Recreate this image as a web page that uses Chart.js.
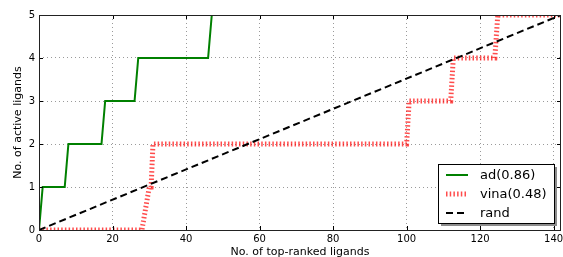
<!DOCTYPE html>
<html>
<head>
<meta charset="utf-8">
<script src="https://cdn.jsdelivr.net/npm/chart.js@4/dist/chart.umd.min.js"></script>
<style>
    html, body { margin: 0; padding: 0; background: #ffffff; }
    #chartBox { width: 563px; height: 257px; }
</style>
</head>
<body>
<div id="chartBox"><canvas id="enrichChart" width="563" height="257"></canvas></div>
<script>
// data
const adX = [0, 1, 7, 8, 17, 18, 26, 27, 46, 47, 142];
const adY = [0, 1, 1, 2, 2, 3, 3, 4, 4, 5, 5];

const vinaX = [0, 28, 30, 30.5, 31, 100, 100.7, 112, 112.7, 124, 124.8, 142];
const vinaY = [0, 0, 1, 1, 2, 2, 3, 3, 4, 4, 5, 5];

const randX = [0, 142];
const randY = [0, 5];

const xTicks = [0, 20, 40, 60, 80, 100, 120, 140];
const yTicks = [0, 1, 2, 3, 4, 5];

const legendLabels = ["ad(0.86)", "vina(0.48)", "rand"];

const FONT = "'DejaVu Sans', sans-serif";

function toPoints(xs, ys) {
    return xs.map((x, i) => ({ x: x, y: ys[i] }));
}

// frame + inward tick marks, like the matplotlib axes
const framePlugin = {
    id: "frame",
    afterDraw(chart) {
        const ctx = chart.ctx;
        const a = chart.chartArea;
        const xs = chart.scales.x;
        const ys = chart.scales.y;
        ctx.save();
        ctx.strokeStyle = "#000000";
        ctx.lineWidth = 1;
        ctx.beginPath();
        xTicks.forEach(v => {
            const px = Math.round(xs.getPixelForValue(v)) + 0.5;
            ctx.moveTo(px, a.bottom);
            ctx.lineTo(px, a.bottom - 4);
            ctx.moveTo(px, a.top);
            ctx.lineTo(px, a.top + 4);
        });
        yTicks.forEach(v => {
            const py = Math.round(ys.getPixelForValue(v)) + 0.5;
            ctx.moveTo(a.left, py);
            ctx.lineTo(a.left + 4, py);
            ctx.moveTo(a.right, py);
            ctx.lineTo(a.right - 4, py);
        });
        ctx.stroke();
        ctx.strokeStyle = "#222222";
        ctx.strokeRect(Math.round(a.left) + 0.5, Math.round(a.top) + 0.5,
            Math.round(a.right - a.left) - 1, Math.round(a.bottom - a.top));
        ctx.restore();
    }
};

// legend box in the lower right corner with a drop shadow
const legendPlugin = {
    id: "boxLegend",
    afterDraw(chart) {
        const ctx = chart.ctx;
        const a = chart.chartArea;
        const w = 116, h = 59;
        const x0 = Math.round(a.right) - 7 - w;
        const y0 = Math.round(a.bottom) - 7 - h;

        ctx.save();
        ctx.fillStyle = "#8c8c8c";
        ctx.fillRect(x0 + 3, y0 + 3, w, h);
        ctx.fillStyle = "#ffffff";
        ctx.fillRect(x0, y0, w, h);
        ctx.strokeStyle = "#000000";
        ctx.lineWidth = 1;
        ctx.strokeRect(x0 + 0.5, y0 + 0.5, w, h);

        ctx.font = "13px " + FONT;
        ctx.textBaseline = "middle";
        ctx.fillStyle = "#000000";

        chart.data.datasets.forEach((ds, i) => {
            const y = y0 + 11 + i * 19;
            ctx.beginPath();
            ctx.strokeStyle = ds.borderColor;
            ctx.lineWidth = ds.borderWidth;
            ctx.setLineDash(ds.borderDash || []);
            ctx.moveTo(x0 + 8, y);
            ctx.lineTo(x0 + 30, y);
            ctx.stroke();
            ctx.setLineDash([]);
            ctx.fillText(legendLabels[i], x0 + 42, y + 1);
        });
        ctx.restore();
    }
};

function buildChart() {
    const canvas = document.getElementById("enrichChart");

    new Chart(canvas.getContext("2d"), {
        type: "scatter",
        data: {
            datasets: [
                {
                    label: legendLabels[0],
                    data: toPoints(adX, adY),
                    showLine: true,
                    borderColor: "#008000",
                    borderWidth: 2,
                    pointRadius: 0,
                    order: 3
                },
                {
                    label: legendLabels[1],
                    data: toPoints(vinaX, vinaY),
                    showLine: true,
                    borderColor: "rgba(255, 0, 0, 0.7)",
                    borderWidth: 5,
                    borderDash: [1.5, 2.2],
                    borderCapStyle: "butt",
                    pointRadius: 0,
                    order: 2
                },
                {
                    label: legendLabels[2],
                    data: toPoints(randX, randY),
                    showLine: true,
                    borderColor: "#000000",
                    borderWidth: 2,
                    borderDash: [7, 4],
                    pointRadius: 0,
                    order: 1
                }
            ]
        },
        options: {
            responsive: false,
            animation: false,
            layout: { padding: { left: 0, right: 2, top: 15, bottom: 0 } },
            plugins: {
                legend: { display: false },
                tooltip: { enabled: false }
            },
            scales: {
                x: {
                    type: "linear",
                    min: 0,
                    max: 142,
                    afterBuildTicks: s => { s.ticks = xTicks.map(v => ({ value: v })); },
                    afterFit: s => {
                        s.height = 27;
                        s.paddingLeft = 0;
                        s.paddingRight = 0;
                    },
                    ticks: {
                        color: "#000000",
                        font: { family: FONT, size: 10 },
                        padding: 3,
                        maxRotation: 0
                    },
                    grid: { color: "#9a9a9a", lineWidth: 1, drawTicks: false },
                    border: { display: false, dash: [1, 3] },
                    title: {
                        display: true,
                        text: "No. of top-ranked ligands",
                        color: "#000000",
                        font: { family: FONT, size: 11 },
                        padding: { top: 0, bottom: -2 }
                    }
                },
                y: {
                    type: "linear",
                    min: 0,
                    max: 5,
                    afterBuildTicks: s => { s.ticks = yTicks.map(v => ({ value: v })); },
                    afterFit: s => {
                        s.width = 39;
                        s.paddingTop = 0;
                        s.paddingBottom = 0;
                    },
                    ticks: {
                        color: "#000000",
                        font: { family: FONT, size: 10 },
                        padding: 4
                    },
                    grid: { color: "#9a9a9a", lineWidth: 1, drawTicks: false },
                    border: { display: false, dash: [1, 3] },
                    title: {
                        display: true,
                        text: "No. of active ligands",
                        color: "#000000",
                        font: { family: FONT, size: 11 },
                        padding: { top: 12, bottom: 0 }
                    }
                }
            }
        },
        plugins: [framePlugin, legendPlugin]
    });
}

buildChart();
</script>
</body>
</html>
